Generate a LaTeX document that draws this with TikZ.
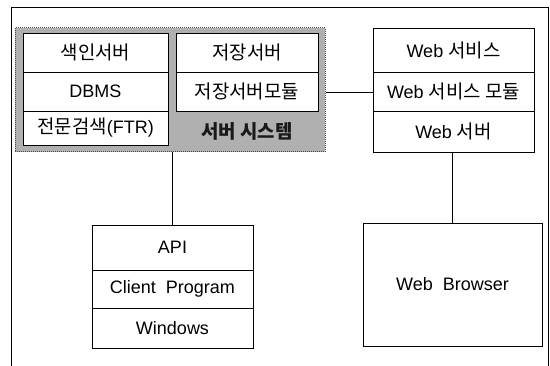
\documentclass[tikz,border=0pt]{standalone}
\usepackage{fontspec}
\setmainfont{Liberation Sans}
\newfontfamily\kr[Scale=1.05]{Noto Sans CJK KR}
\begin{document}
\begin{tikzpicture}[x=1pt,y=-1pt,
  cell/.style={draw=black,line width=0.6pt,fill=white,inner sep=0pt,font=\fontsize{18}{20}\selectfont},
  conn/.style={draw=black,line width=0.6pt},
  sysbox/.style={draw=gray!60!black,densely dotted,line width=1pt,fill=gray!62,inner sep=0pt}]
\useasboundingbox (0,0) rectangle (550,366);
% outer frame
\draw[conn] (11,366) -- (11,7) -- (548,7) -- (548,366);
% server system box
\node[sysbox,minimum width=310pt,minimum height=124pt] (sys) at (170,90) {};
\node[cell,minimum width=145pt,minimum height=39pt] (idx) at (95.5,52.5) {\kr 색인서버};
\node[cell,minimum width=145pt,minimum height=39pt] (dbms) at (95.5,91.5) {DBMS};
\node[cell,minimum width=145pt,minimum height=34pt] (ftr) at (95.5,128) {{\kr 전문검색}(FTR)};
\node[cell,minimum width=142pt,minimum height=39pt] (store) at (247,52.5) {\kr 저장서버};
\node[cell,minimum width=142pt,minimum height=39pt] (storemod) at (247,91.5) {\kr 저장서버모듈};
\node[font=\fontsize{18}{20}\selectfont,text=black!90] (syslabel) at (247,131) {\kr\bfseries 서버 시스템};
% web service box
\node[cell,minimum width=161pt,minimum height=44pt] (web1) at (453.5,50) {Web {\kr 서비스}};
\node[cell,minimum width=161pt,minimum height=39pt] (web2) at (453.5,91.5) {Web {\kr 서비스 모듈}};
\node[cell,minimum width=161pt,minimum height=41pt] (web3) at (453.5,131.5) {Web {\kr 서버}};
% client box
\node[cell,minimum width=161pt,minimum height=45pt] (api) at (172.5,247.5) {API};
\node[cell,minimum width=161pt,minimum height=38pt] (client) at (172.5,289) {Client\ \ Program};
\node[cell,minimum width=161pt,minimum height=40pt] (win) at (172.5,328) {Windows};
% web browser
\node[cell,minimum width=179pt,minimum height=123pt] (browser) at (452.5,284.5) {Web\ \ Browser};
% connectors
\draw[conn] (api.north) -- (api.north |- sys.south);
\draw[conn] ([yshift=-2pt]sys.east) -- ([yshift=-2pt]sys.east -| web2.west);
\draw[conn] (browser.north) -- (browser.north |- web3.south);
\end{tikzpicture}
\end{document}
